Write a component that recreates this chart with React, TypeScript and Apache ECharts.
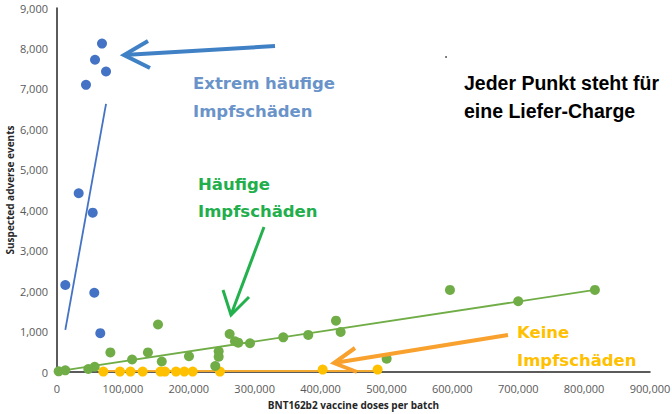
import React, { useEffect, useRef } from "react";
import * as echarts from "echarts";

const blueX = [68300, 57700, 74400, 44000, 32900, 54200, 12600, 56600, 65700];
const blueY = [8120, 7720, 7430, 7100, 4420, 3940, 2150, 1960, 960];

const greenX = [2500, 12600, 47500, 57200, 81000, 114000, 138000, 153300, 159000, 200300, 240200, 245400, 245400, 262000, 270100, 275100, 292900, 343400, 381300, 423400, 430500, 500300, 596400, 700000, 816400];
const greenY = [17, 42, 74, 130, 485, 310, 485, 1175, 260, 390, 148, 512, 380, 940, 760, 726, 710, 858, 916, 1270, 990, 330, 2030, 1750, 2030];

const yellowX = [70300, 95600, 111500, 130000, 157000, 163900, 180600, 193200, 205900, 247300, 403200, 486600];
const yellowY = [10, 10, 10, 10, 10, 10, 10, 10, 10, 10, 60, 60];

const blueTrendX = [12600, 74400];
const blueTrendY = [1040, 6630];
const greenTrendX = [2500, 816400];
const greenTrendY = [20, 2030];
const yellowTrendX = [70300, 486600];
const yellowTrendY = [25, 25];

const xTicks = { min: 0, max: 900000, interval: 100000 };
const yTicks = { min: 0, max: 9000, interval: 1000 };

const zip = (xs: number[], ys: number[]) => xs.map((x, i) => [x, ys[i]]);

const FONT = "'Open Sans', 'Noto Sans', sans-serif";
const ANN = "'DejaVu Sans', sans-serif";
const BLK = "'Liberation Sans', Arial, sans-serif";

export default function App() {
  const ref = useRef<HTMLDivElement>(null);
  useEffect(() => {
    if (!ref.current) return;
    const chart = echarts.init(ref.current, undefined, { renderer: "svg" });
    const fmt = (v: number) => v.toLocaleString("en-US");
    const blue = "#4472C4";
    const green = "#70AD47";
    const yellow = "#FFC000";
    const ann = (x: number, y: number, text: string, fill: string) => ({
      type: "text",
      x,
      y,
      z: 10,
      style: { text, fontFamily: ANN, fontSize: 16.5, fontWeight: "bold", fill, textVerticalAlign: "middle" },
    });
    chart.setOption({
      animation: false,
      backgroundColor: "#ffffff",
      grid: { left: 57, right: 22, top: 8, bottom: 42, containLabel: false, outerBoundsMode: "none" },
      xAxis: {
        type: "value",
        ...xTicks,
        name: "BNT162b2 vaccine doses per batch",
        nameLocation: "middle",
        nameGap: 28,
        nameMoveOverlap: false,
        nameTextStyle: { fontFamily: FONT, fontSize: 10, fontWeight: "bold", color: "#262626" },
        axisLine: { show: true, lineStyle: { color: "#262626", width: 1.5 } },
        axisTick: { show: false },
        splitLine: { show: false },
        axisLabel: { formatter: fmt, fontFamily: FONT, fontSize: 11, color: "#595959", margin: 11 },
      },
      yAxis: {
        type: "value",
        ...yTicks,
        name: "Suspected adverse events",
        nameLocation: "middle",
        nameGap: 42,
        nameMoveOverlap: false,
        nameTextStyle: { fontFamily: FONT, fontSize: 10, fontWeight: "bold", color: "#262626" },
        axisLine: { show: true, lineStyle: { color: "#262626", width: 1.5 } },
        axisTick: { show: false },
        splitLine: { show: false },
        axisLabel: { formatter: fmt, fontFamily: FONT, fontSize: 11, color: "#595959", margin: 9 },
      },
      series: [
        {
          type: "line",
          data: zip(yellowTrendX, yellowTrendY),
          symbol: "none",
          lineStyle: { color: "#F0A830", width: 2 },
          z: 3,
        },
        {
          type: "scatter",
          data: zip(yellowX, yellowY),
          symbolSize: 10,
          itemStyle: { color: yellow, opacity: 1 },
          z: 4,
        },
        {
          type: "scatter",
          data: zip(greenX, greenY),
          symbolSize: 10,
          itemStyle: { color: green, opacity: 1 },
          z: 4,
        },
        {
          type: "line",
          data: zip(greenTrendX, greenTrendY),
          symbol: "none",
          lineStyle: { color: green, width: 1.8 },
          z: 5,
        },
        {
          type: "scatter",
          data: zip(blueX, blueY),
          symbolSize: 10,
          itemStyle: { color: blue, opacity: 1 },
          z: 4,
        },
        {
          type: "line",
          data: zip(blueTrendX, blueTrendY),
          symbol: "none",
          lineStyle: { color: blue, width: 1.8 },
          z: 5,
        },
      ],
      graphic: [
        { type: "line", shape: { x1: 275, y1: 46, x2: 124, y2: 55 }, style: { stroke: "#4081C6", lineWidth: 4 }, z: 10 },
        { type: "polyline", shape: { points: [[148, 41], [124, 55], [150, 68]] }, style: { stroke: "#4081C6", lineWidth: 4, fill: null }, z: 10 },
        { type: "line", shape: { x1: 264, y1: 227, x2: 231, y2: 315 }, style: { stroke: "#22B14C", lineWidth: 3 }, z: 10 },
        { type: "polyline", shape: { points: [[223, 290], [231, 315], [249, 297]] }, style: { stroke: "#22B14C", lineWidth: 3, fill: null }, z: 10 },
        { type: "line", shape: { x1: 508, y1: 335, x2: 334, y2: 363 }, style: { stroke: "#F9A12E", lineWidth: 4 }, z: 10 },
        { type: "polyline", shape: { points: [[355, 348], [334, 363], [357, 372]] }, style: { stroke: "#F9A12E", lineWidth: 4, fill: null }, z: 10 },
        { type: "circle", shape: { cx: 446, cy: 57, r: 0.8 }, style: { fill: "#333" }, z: 10 },
        ann(193, 83, "Extrem häufige", "#6A94C9"),
        ann(193, 111, "Impfschäden", "#6A94C9"),
        ann(198, 184, "Häufige", "#22AE4B"),
        ann(198, 211, "Impfschäden", "#22AE4B"),
        ann(517, 332, "Keine", "#FFC000"),
        ann(517, 360, "Impfschäden", "#FFC000"),
        { type: "text", x: 464, y: 83, z: 10, style: { text: "Jeder Punkt steht für", fontFamily: BLK, fontSize: 19.5, fontWeight: "bold", fill: "#000000", textVerticalAlign: "middle" } },
        { type: "text", x: 464, y: 111, z: 10, style: { text: "eine Liefer-Charge", fontFamily: BLK, fontSize: 19.5, fontWeight: "bold", fill: "#000000", textVerticalAlign: "middle" } },
      ],
    });
    return () => chart.dispose();
  }, []);
  return (
    <div
      ref={ref}
      style={{ position: "fixed", left: 0, top: 0, width: 672, height: 414, background: "#fff" }}
    />
  );
}
